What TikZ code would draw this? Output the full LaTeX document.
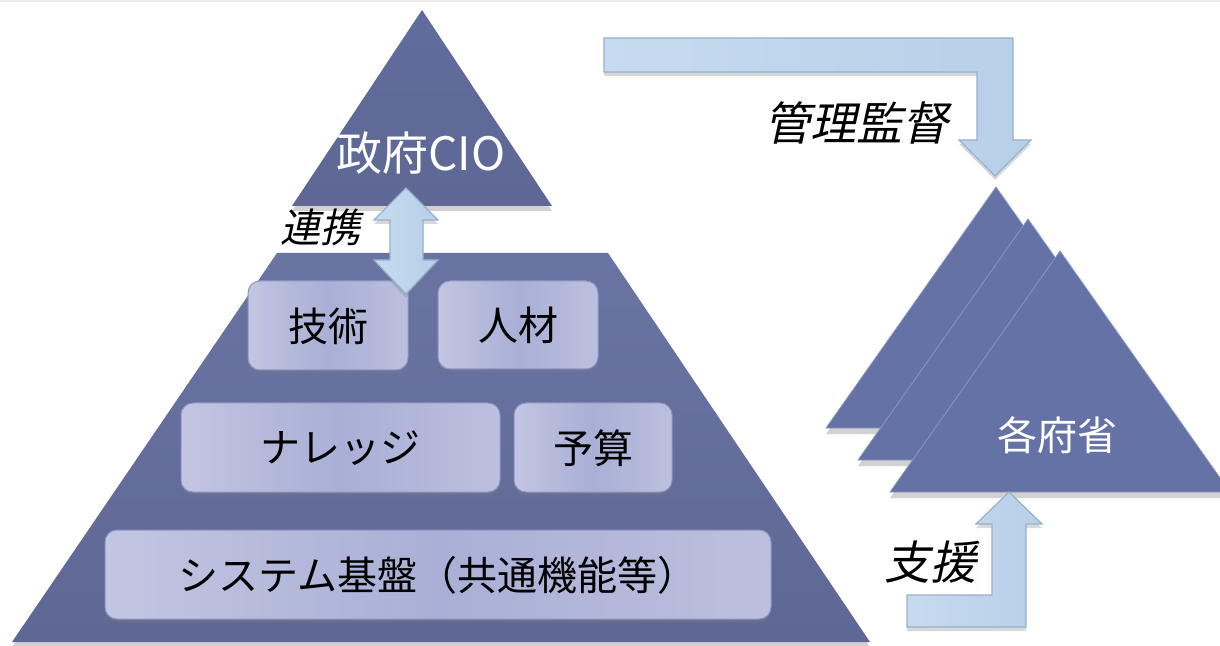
\documentclass[tikz,border=0pt]{standalone}
\usepackage{fontspec}
\setmainfont{Noto Sans CJK JP}
\newfontfamily\jpfont{Noto Sans CJK JP}
\newfontfamily\jpslant[FakeSlant=0.22]{Noto Sans CJK JP}
\usetikzlibrary{shadows}
\definecolor{pyrTop}{HTML}{6A74A3}
\definecolor{pyrBot}{HTML}{5F6894}
\definecolor{triCol}{HTML}{6572A6}
\definecolor{triEdge}{HTML}{8A95C4}
\definecolor{boxL}{HTML}{C2C6E2}
\definecolor{boxM}{HTML}{A9AFD6}
\definecolor{boxR}{HTML}{BCC0DF}
\definecolor{boxLine}{HTML}{8E95C0}
\definecolor{arrL}{HTML}{C6DBEF}
\definecolor{arrR}{HTML}{B7CFE8}
\definecolor{arrLine}{HTML}{97B0CC}
\tikzset{
  pyrshape/.style={top color=pyrTop, bottom color=pyrBot, draw=none,
    drop shadow={shadow xshift=0pt, shadow yshift=-2.5pt, opacity=0.35}},
  trishape/.style={fill=triCol, draw=triEdge, line width=0.4pt,
    drop shadow={shadow xshift=0pt, shadow yshift=-3pt, opacity=0.35}},
  blockbox/.style={left color=boxL, right color=boxR, middle color=boxM,
    draw=boxLine, line width=0.5pt, rounded corners=6pt,
    drop shadow={shadow xshift=0pt, shadow yshift=-1.5pt, opacity=0.3}},
  blockarrow/.style={left color=arrL, right color=arrR, draw=arrLine, line width=0.6pt,
    drop shadow={shadow xshift=0pt, shadow yshift=-2pt, opacity=0.3}},
  boxtext/.style={text=black, font=\jpfont\fontsize{20pt}{24pt}\selectfont, inner sep=0pt},
  whitetext/.style={text=white, font=\jpfont\fontsize{20pt}{24pt}\selectfont, inner sep=0pt},
  italtext/.style={text=black, font=\jpslant\fontsize{23pt}{27pt}\selectfont, inner sep=0pt},
}
\begin{document}
\begin{tikzpicture}[x=0.5pt, y=-0.5pt]
\useasboundingbox (0,0) rectangle (1220,646);
\clip (0,0) rectangle (1220,646);
\fill[white] (0,0) rectangle (1220,646);
\fill[black!8] (0,0) rectangle (1220,2);

% large pyramid (trapezoid)
\coordinate (pTL) at (277,253);
\coordinate (pTR) at (608,253);
\coordinate (pBR) at (870,642);
\coordinate (pBL) at (12,642);
\path[pyrshape] (pTL) -- (pTR) -- (pBR) -- (pBL) -- cycle;

% CIO triangle
\coordinate (cA) at (422,10);
\coordinate (cL) at (292,206);
\coordinate (cR) at (552,206);
\path[pyrshape, top color=triCol!95!black, bottom color=pyrBot] (cA) -- (cR) -- (cL) -- cycle;
\node[whitetext, font=\jpfont\fontsize{23pt}{27pt}\selectfont] (cio) at (421,153) {政府CIO};

% boxes
\draw[blockbox] (248,281) rectangle (408,370);
\node[boxtext] (gijutsu) at (328,326) {技術};
\draw[blockbox] (438,281) rectangle (598,369);
\node[boxtext] (jinzai) at (518,325) {人材};
\draw[blockbox] (181,403) rectangle (500,492);
\node[boxtext] (knowledge) at (340,448) {ナレッジ};
\draw[blockbox] (514,403) rectangle (672,492);
\node[boxtext] (yosan) at (593,448) {予算};
\draw[blockbox] (105,530) rectangle (771,619);
\node[boxtext] (system) at (438,575) {システム基盤（共通機能等）};

% double arrow (連携)
\path[blockarrow] (406,188) -- (438,220) -- (423,220) -- (423,260) -- (438,260)
  -- (406,294) -- (374,260) -- (390,260) -- (390,220) -- (374,220) -- cycle;
\node[italtext, font=\jpslant\fontsize{20pt}{24pt}\selectfont] (renkei) at (320,227) {連携};

% right stacked triangles
\path[trishape] (996,187) -- (1166,428) -- (826,428) -- cycle;
\path[trishape] (1028,219) -- (1198,460) -- (858,460) -- cycle;
\path[trishape] (1060,251) -- (1230,492) -- (890,492) -- cycle;
\node[whitetext] (kakufusho) at (1057,435) {各府省};

% top L arrow (管理監督)
\path[blockarrow] (604,38) -- (1013,38) -- (1013,140) -- (1031,140) -- (995,176)
  -- (959,140) -- (977,140) -- (977,72) -- (604,72) -- cycle;
\node[italtext] (kanri) at (856,123) {管理監督};

% bottom L arrow (支援)
\path[blockarrow] (907,627) -- (1026,627) -- (1026,524) -- (1042,524) -- (1009,492)
  -- (976,524) -- (992,524) -- (992,595) -- (907,595) -- cycle;
\node[italtext] (shien) at (930,562) {支援};
\end{tikzpicture}
\end{document}
